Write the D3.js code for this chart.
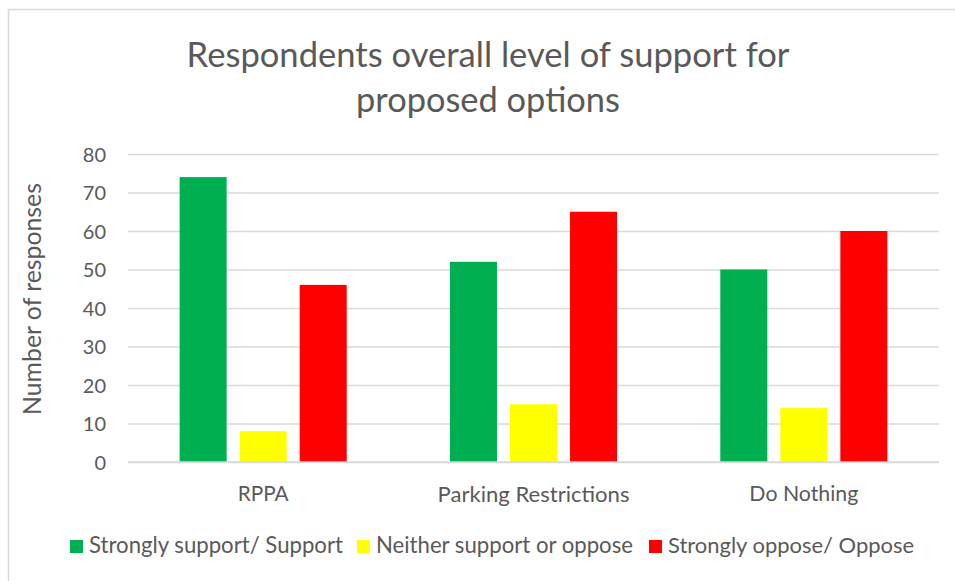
<!DOCTYPE html>
<html>
<head>
<meta charset="utf-8">
<script src="https://cdn.jsdelivr.net/npm/d3@7"></script>
<style>
  html, body { margin: 0; padding: 0; background: #fff; }
  svg { display: block; font-family: Lato, "Open Sans", sans-serif; }
</style>
</head>
<body>
<svg id="chart" width="955" height="581"></svg>
<script>
// Survey responses per option
const categories = ["RPPA", "Parking Restrictions", "Do Nothing"];
const seriesNames = ["Strongly support/ Support", "Neither support or oppose", "Strongly oppose/ Oppose"];
const seriesColors = ["#00B050", "#FFFF00", "#FF0000"];
const supportValues = [74, 52, 50];
const neutralValues = [8, 15, 14];
const opposeValues = [46, 65, 60];
const yTicks = [0, 10, 20, 30, 40, 50, 60, 70, 80];
const titleLines = ["Respondents overall level of support for", "proposed options"];
const yAxisTitle = "Number of responses";

const seriesValues = [supportValues, neutralValues, opposeValues];
const textColor = "#595959";
const fontStack = "Lato, 'Open Sans', sans-serif";

const svg = d3.select("#chart");

// Chart frame (right and bottom edges fall outside the canvas)
svg.append("rect")
  .attr("x", 8.5).attr("y", 9.5)
  .attr("width", 960).attr("height", 600)
  .attr("fill", "#fff").attr("stroke", "#d9d9d9").attr("stroke-width", 1.5);

// Scale a text element's font size so it spans the given width
function fitWidth(sel, width) {
  const node = sel.node();
  const fs = parseFloat(sel.attr("font-size"));
  const w = node.getComputedTextLength();
  if (w > 0) sel.attr("font-size", (fs * width / w).toFixed(2));
  return sel;
}

const plot = { left: 128, right: 939, top: 154, bottom: 462 };

const x0 = d3.scaleBand()
  .domain(categories)
  .range([plot.left, plot.right])
  .paddingInner(0.382)
  .paddingOuter(0.191);

const x1 = d3.scaleBand()
  .domain(seriesNames)
  .range([0, x0.bandwidth()])
  .paddingInner(13 / 60);

const y = d3.scaleLinear().domain([0, 80]).range([plot.bottom, plot.top]);

// Title
const titleWidths = [603, 264];
const titleY = [67, 112];
titleLines.forEach((t, i) => {
  const el = svg.append("text")
    .attr("x", 488).attr("y", titleY[i])
    .attr("text-anchor", "middle")
    .attr("fill", textColor)
    .attr("font-size", 30)
    .text(t);
  fitWidth(el, titleWidths[i]);
});

// Gridlines and value labels
const yAxis = d3.axisLeft(y).tickValues(yTicks).tickSize(-(plot.right - plot.left)).tickPadding(22);
const gy = svg.append("g").attr("transform", `translate(${plot.left},0)`).call(yAxis);
gy.attr("font-size", null).attr("font-family", null);
gy.select(".domain").remove();
gy.selectAll(".tick line").attr("stroke", "#d9d9d9").attr("stroke-width", 1.5);
gy.selectAll(".tick text")
  .attr("fill", textColor)
  .attr("font-size", 20)
  .attr("font-family", fontStack)
  .attr("dy", "0.36em");

// Bars
const groups = svg.append("g").selectAll("g")
  .data(categories)
  .join("g")
  .attr("transform", d => `translate(${x0(d)},0)`);

groups.selectAll("rect")
  .data((c, ci) => seriesNames.map((s, si) => ({ s, si, v: seriesValues[si][ci] })))
  .join("rect")
  .attr("x", d => x1(d.s))
  .attr("width", x1.bandwidth())
  .attr("y", d => y(d.v))
  .attr("height", d => y(0) - y(d.v))
  .attr("fill", d => seriesColors[d.si]);

// Baseline
svg.append("line")
  .attr("x1", plot.left).attr("x2", plot.right)
  .attr("y1", y(0)).attr("y2", y(0))
  .attr("stroke", "#d9d9d9").attr("stroke-width", 1.5);

// Category labels
const catWidths = [51, 192, 109];
const xAxis = d3.axisBottom(x0).tickSize(0).tickPadding(24);
const gx = svg.append("g").attr("transform", `translate(0,${plot.bottom})`).call(xAxis);
gx.attr("font-size", null).attr("font-family", null);
gx.select(".domain").remove();
gx.selectAll(".tick text")
  .attr("fill", textColor)
  .attr("font-size", 18)
  .attr("font-family", fontStack)
  .each(function (d, i) { fitWidth(d3.select(this), catWidths[i]); });

// Y axis title
const yt = svg.append("text")
  .attr("transform", "translate(41,299) rotate(-90)")
  .attr("text-anchor", "middle")
  .attr("fill", textColor)
  .attr("font-size", 20)
  .text(yAxisTitle);
fitWidth(yt, 232);

// Legend
const legendX = [70, 357, 649];
const legendTextW = [254, 257, 246];
const legend = svg.append("g");
seriesNames.forEach((name, i) => {
  legend.append("rect")
    .attr("x", legendX[i]).attr("y", 540)
    .attr("width", 13).attr("height", 13)
    .attr("fill", seriesColors[i]);
  const t = legend.append("text")
    .attr("x", legendX[i] + 19).attr("y", 553)
    .attr("fill", textColor)
    .attr("font-size", 18)
    .text(name);
  fitWidth(t, legendTextW[i]);
});
</script>
</body>
</html>
